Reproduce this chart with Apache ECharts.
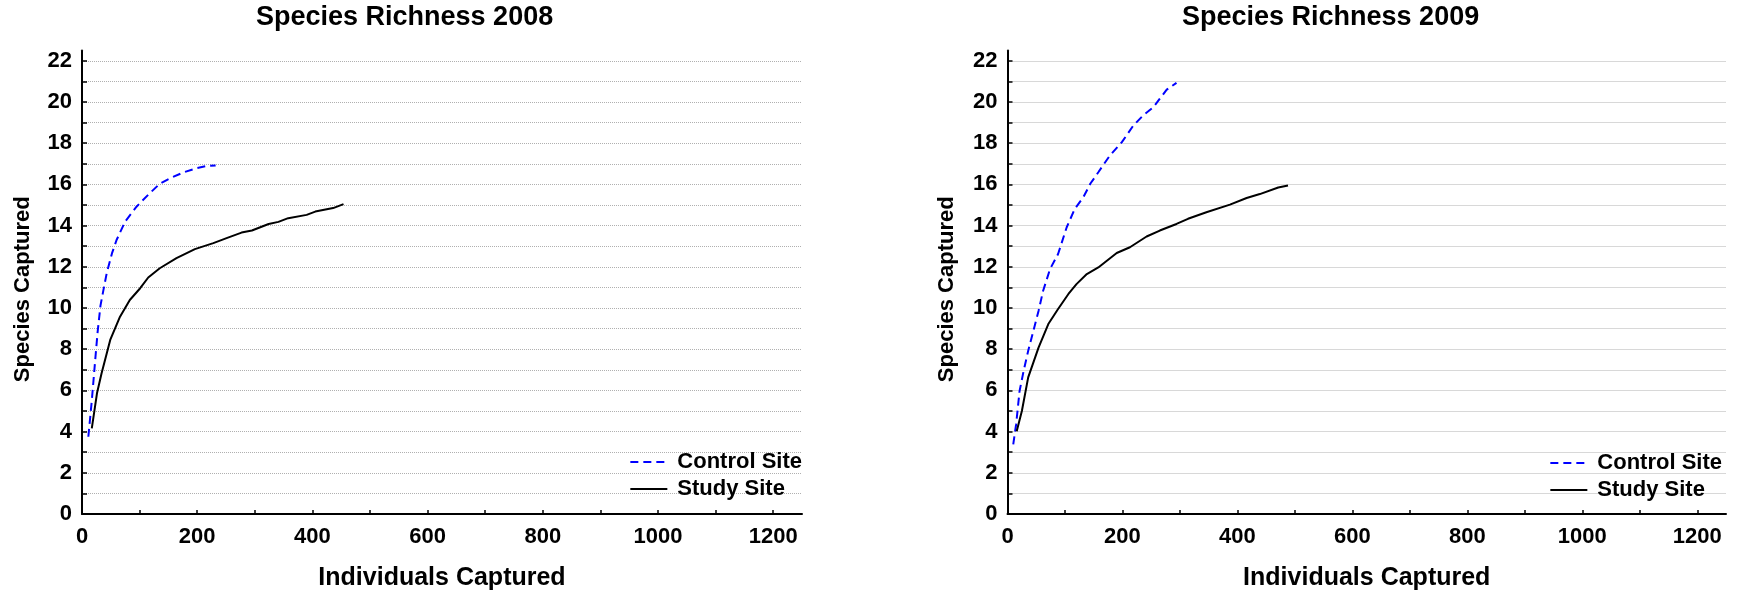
<!DOCTYPE html>
<html>
<head>
<meta charset="utf-8">
<script src="https://cdn.jsdelivr.net/npm/echarts@6/dist/echarts.min.js"></script>
<style>
html,body{margin:0;padding:0;background:#fff;}
#chart{width:1738px;height:594px;}
</style>
</head>
<body>
<div id="chart"></div>
<script>
// ---- data ----
const titles = ['Species Richness 2008', 'Species Richness 2009'];
const seriesNames = ['Control Site', 'Study Site'];
const xTickLabels = [0, 200, 400, 600, 800, 1000, 1200];
const xMinorTicks = [0, 100, 200, 300, 400, 500, 600, 700, 800, 900, 1000, 1100, 1200];
const yTickLabels = [0, 2, 4, 6, 8, 10, 12, 14, 16, 18, 20, 22];
const yGridValues = [0,1,2,3,4,5,6,7,8,9,10,11,12,13,14,15,16,17,18,19,20,21,22];

const control2008X = [11, 17, 23, 27, 32, 36, 43, 52, 60, 75, 95, 115, 135, 153, 176, 199, 217, 232];
const control2008Y = [3.75, 5.5, 7.5, 8.8, 10.1, 10.7, 11.7, 12.65, 13.3, 14.2, 14.93, 15.5, 16.03, 16.3, 16.58, 16.79, 16.9, 16.92];
const study2008X = [17, 26, 34, 49, 66, 83, 101, 115, 135, 164, 196, 228, 251, 277, 295, 324, 341, 358, 390, 405, 436, 454];
const study2008Y = [4.16, 5.86, 6.83, 8.45, 9.58, 10.39, 10.96, 11.48, 11.93, 12.42, 12.86, 13.15, 13.39, 13.66, 13.76, 14.08, 14.18, 14.36, 14.52, 14.68, 14.85, 15.04];

const control2009X = [10, 15, 21, 28, 36, 45, 54, 62, 74, 88, 103, 117, 132, 144, 158, 178, 199, 219, 236, 254, 265, 277, 294];
const control2009Y = [3.38, 4.35, 5.97, 6.94, 7.92, 8.89, 9.86, 10.84, 11.89, 12.62, 13.92, 14.81, 15.38, 16.03, 16.59, 17.4, 18.05, 18.86, 19.35, 19.75, 20.16, 20.6, 20.93];
const study2009X = [16, 25, 36, 54, 71, 88, 106, 120, 138, 158, 190, 213, 242, 265, 294, 314, 346, 387, 416, 439, 471, 488];
const study2009Y = [4.02, 5.0, 6.63, 8.08, 9.22, 9.95, 10.68, 11.16, 11.65, 11.97, 12.67, 12.95, 13.47, 13.76, 14.08, 14.33, 14.65, 15.02, 15.34, 15.53, 15.85, 15.95];

function pairs(xs, ys) { return xs.map((x, i) => [x, ys[i]]); }

const FONT = 'Arial, "Liberation Sans", sans-serif';
const gridDefs = [
  {left: 82, top: 50.5, width: 720, height: 463.5, containLabel: false, outerBoundsMode: 'none'},
  {left: 1007.5, top: 50.5, width: 718.5, height: 463.5, containLabel: false, outerBoundsMode: 'none'}
];
const titleLefts = [256, 1182];
const yNameGaps = [48, 50];

function xAxisFor(i) {
  return {
    type: 'value', gridIndex: i, min: 0, max: 1250, interval: 100,
    name: 'Individuals Captured', nameLocation: 'middle', nameGap: 52,
    nameTextStyle: {fontFamily: FONT, fontWeight: 'bold', fontSize: 25, color: '#000'},
    axisLine: {show: true, onZero: false, lineStyle: {color: '#000', width: 2}},
    axisTick: {show: true, inside: true, length: 4, customValues: xMinorTicks, lineStyle: {color: '#000', width: 1.5}},
    axisLabel: {customValues: xTickLabels, formatter: v => String(v), margin: 12, fontFamily: FONT, fontWeight: 'bold', fontSize: 22, color: '#000'},
    splitLine: {show: false}
  };
}
function yAxisFor(i) {
  return {
    type: 'value', gridIndex: i, min: 0, max: 22.5, interval: 1,
    name: 'Species Captured', nameLocation: 'middle', nameGap: yNameGaps[i], nameRotate: 90,
    nameTextStyle: {fontFamily: FONT, fontWeight: 'bold', fontSize: 22, color: '#000', padding: [0, 14, 0, 0]},
    axisLine: {show: true, onZero: false, lineStyle: {color: '#000', width: 2}},
    axisTick: {show: true, inside: true, length: 5, customValues: yGridValues, lineStyle: {color: '#000', width: 1.5}},
    axisLabel: {customValues: yTickLabels, formatter: v => String(v), margin: 10, fontFamily: FONT, fontWeight: 'bold', fontSize: 22, color: '#000'},
    splitLine: {show: true, lineStyle: {color: '#b0b0b0', width: 1, type: 'dotted'}}
  };
}

const dataSets = [
  [pairs(control2008X, control2008Y), pairs(study2008X, study2008Y)],
  [pairs(control2009X, control2009Y), pairs(study2009X, study2009Y)]
];
const series = [];
for (let i = 0; i < 2; i++) {
  series.push({
    name: seriesNames[0], type: 'line', xAxisIndex: i, yAxisIndex: i, symbol: 'none',
    data: dataSets[i][0], lineStyle: {color: '#0000ff', width: 2, type: [8, 5]}, itemStyle: {color: '#0000ff'},
    z: 3, animation: false
  });
  series.push({
    name: seriesNames[1], type: 'line', xAxisIndex: i, yAxisIndex: i, symbol: 'none',
    data: dataSets[i][1], lineStyle: {color: '#000', width: 2, type: 'solid'}, itemStyle: {color: '#000'},
    z: 3, animation: false
  });
}

const legendRights = [936, 16];
const legendTops = [451, 452];
const legends = [0, 1].map(i => ({
  orient: 'vertical', right: legendRights[i], top: legendTops[i], padding: 0,
  align: 'left', itemWidth: 37, itemHeight: 14, itemGap: 5,
  data: seriesNames,
  itemStyle: {color: 'rgba(0,0,0,0)', borderColor: 'rgba(0,0,0,0)', borderWidth: 0, opacity: 0},
  textStyle: {fontFamily: FONT, fontWeight: 'bold', fontSize: 22, color: '#000', padding: [0, 0, 0, 5]},
  selectedMode: false
}));

const chart = echarts.init(document.getElementById('chart'), null, {renderer: 'canvas'});
chart.setOption({
  backgroundColor: '#fff',
  animation: false,
  title: titles.map((t, i) => ({
    text: t, left: titleLefts[i], top: 4, padding: 0,
    textStyle: {fontFamily: FONT, fontWeight: 'bold', fontSize: 27, color: '#000'}
  })),
  grid: gridDefs,
  xAxis: [xAxisFor(0), xAxisFor(1)],
  yAxis: [yAxisFor(0), yAxisFor(1)],
  legend: legends,
  series: series
});
</script>
</body>
</html>
